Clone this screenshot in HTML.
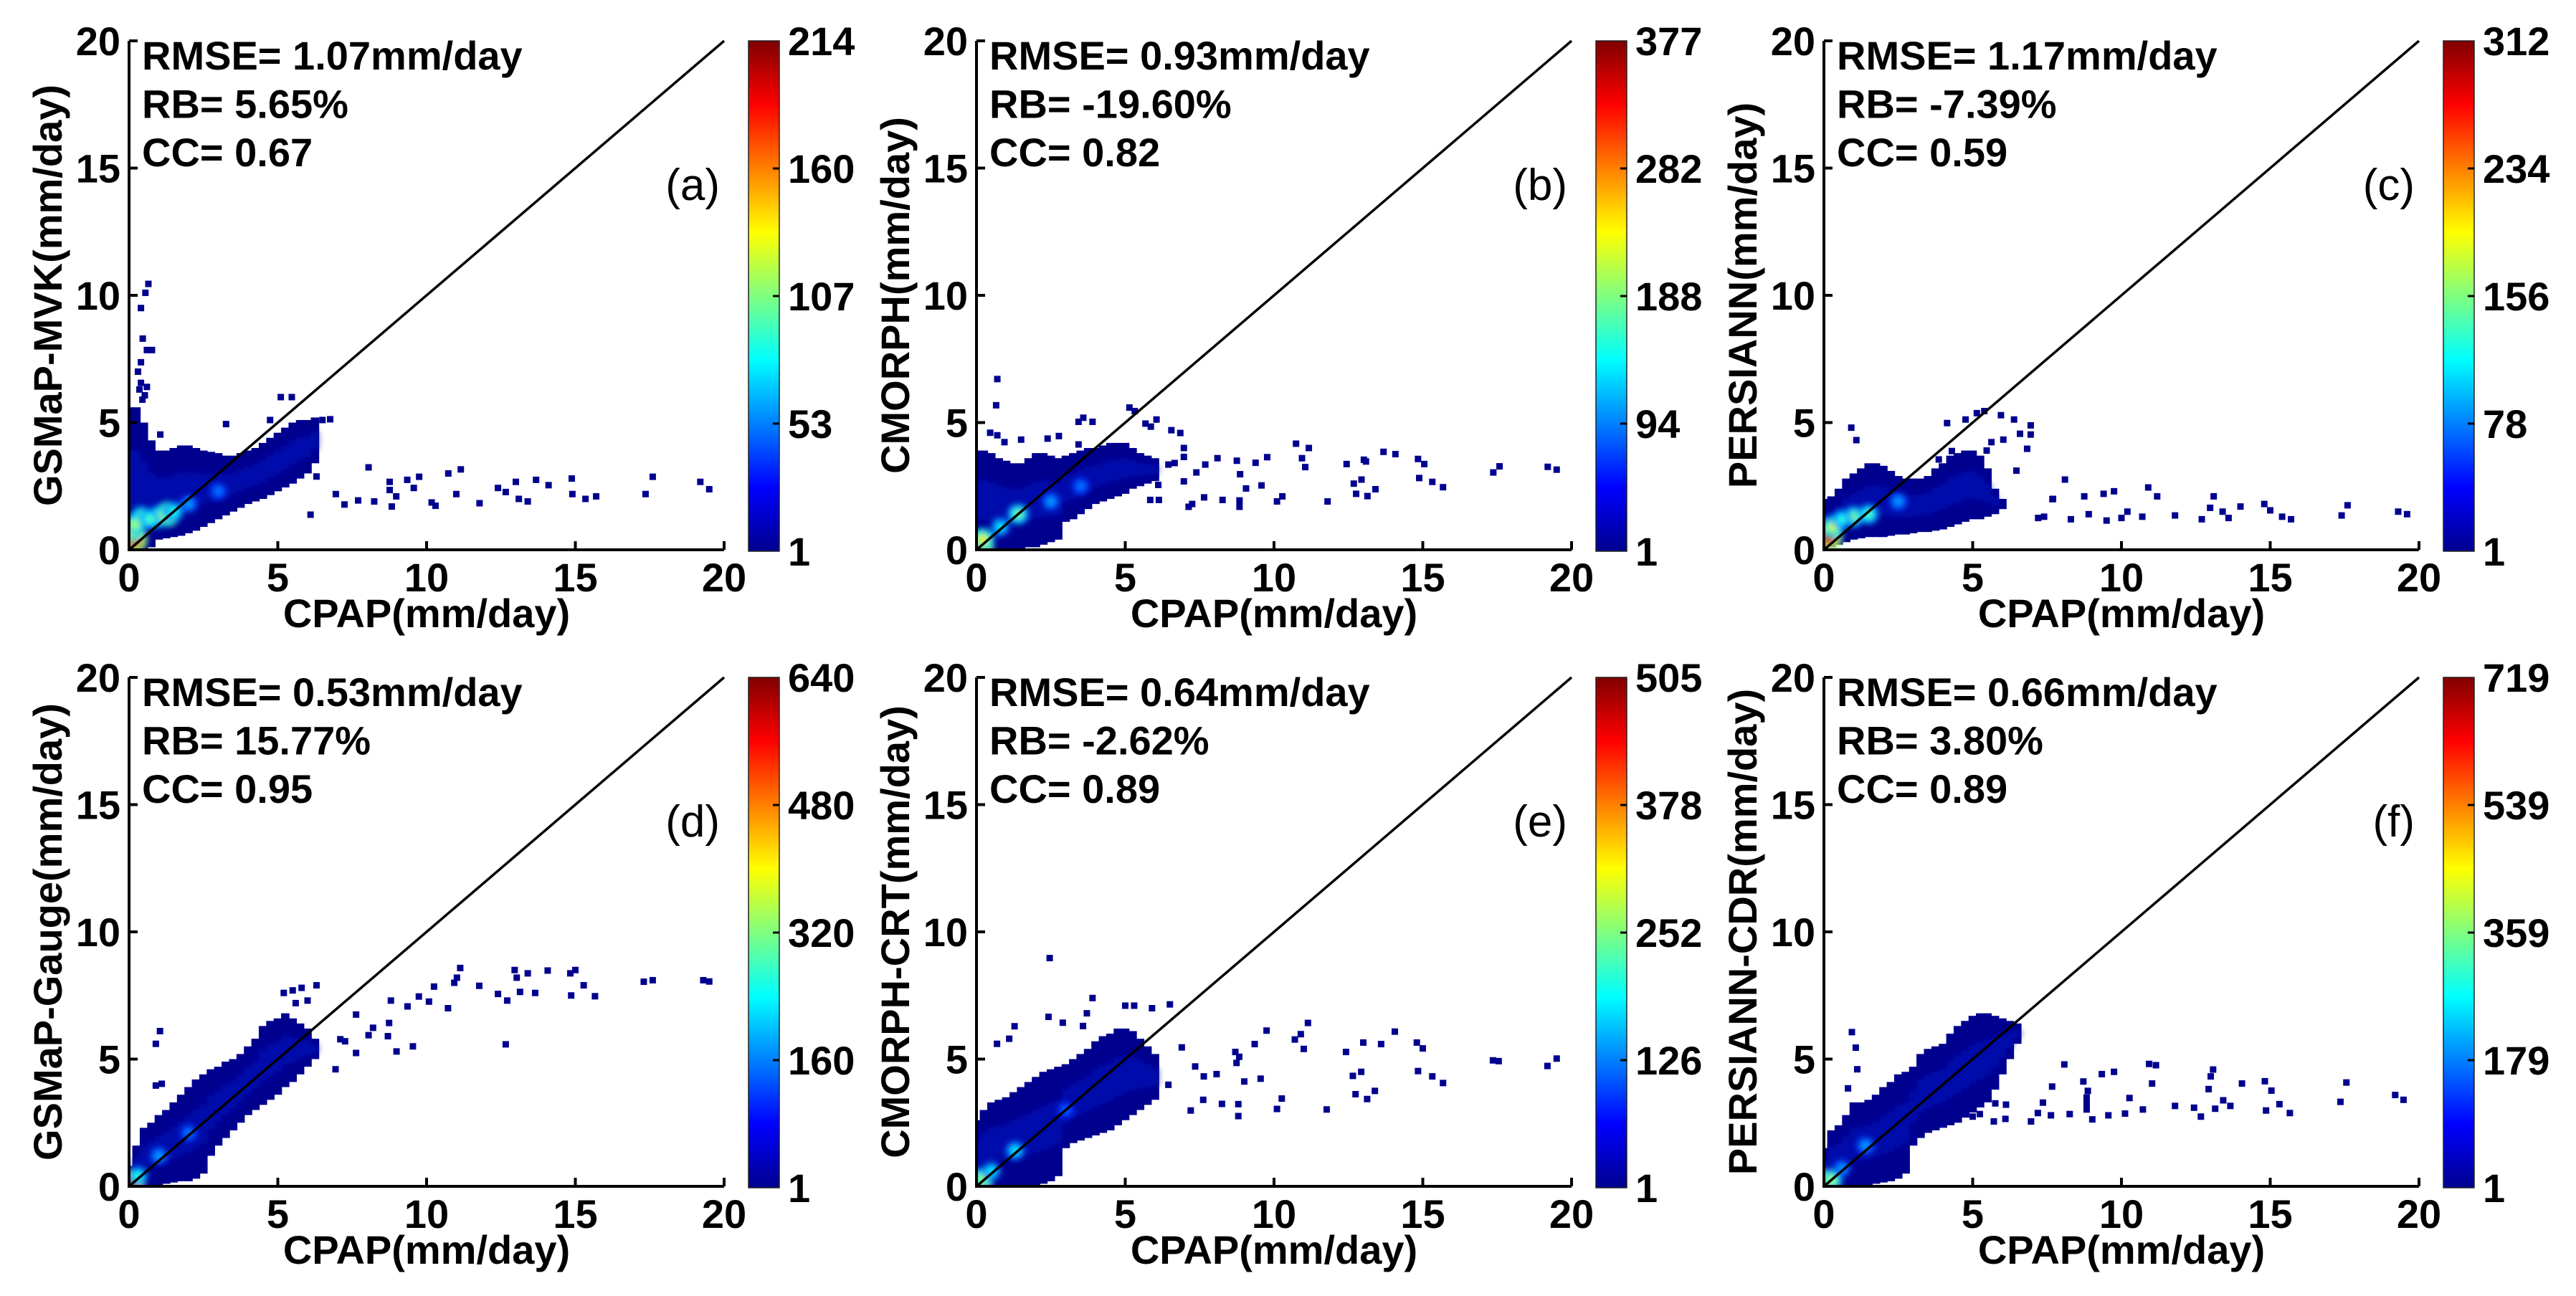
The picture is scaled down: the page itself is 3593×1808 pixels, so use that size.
<!DOCTYPE html>
<html><head><meta charset="utf-8"><style>
html,body{margin:0;padding:0;background:#fff;}
svg{display:block;font-family:"Liberation Sans",Arial,sans-serif;}
</style></head><body>
<svg id="fig" width="3593" height="1808" viewBox="0 0 3593 1808" xmlns="http://www.w3.org/2000/svg">
<defs>
<linearGradient id="jet" x1="0" y1="1" x2="0" y2="0">
<stop offset="0" stop-color="#00008f"/><stop offset="0.125" stop-color="#0000ff"/><stop offset="0.375" stop-color="#00ffff"/><stop offset="0.625" stop-color="#ffff00"/><stop offset="0.875" stop-color="#ff0000"/><stop offset="1" stop-color="#800000"/>
</linearGradient>
<filter id="soft" x="-50%" y="-50%" width="200%" height="200%"><feGaussianBlur stdDeviation="4"/></filter>
</defs>
</svg>
<script>
// ---- data: column envelopes [x, yLow, yHigh] (mm/day)
const colsA=[[0,0,5.6],[0.25,0,5.6],[0.5,0,5.0],[0.75,0.1,4.3],[1,0.4,3.9],[1.25,0.45,3.9],[1.5,0.5,4.0],[1.75,0.55,4.1],[2,0.65,4.1],[2.25,0.75,4.0],[2.5,0.9,3.9],[2.75,1.05,3.85],[3,1.2,3.8],[3.25,1.35,3.7],[3.5,1.5,3.7],[3.75,1.65,3.8],[4,1.8,3.9],[4.25,1.9,4.0],[4.5,2.0,4.2],[4.75,2.15,4.4],[5,2.3,4.6],[5.25,2.45,4.8],[5.5,2.6,5.0],[5.75,2.8,5.1],[6,3.0,5.1],[6.25,3.4,5.2]];
const colsB=[[0,0,3.9],[0.25,0,3.9],[0.5,0,3.8],[0.75,0.05,3.6],[1,0.05,3.5],[1.25,0.05,3.4],[1.5,0.05,3.4],[1.75,0.1,3.6],[2,0.1,3.8],[2.25,0.2,3.8],[2.5,0.3,3.7],[2.75,0.4,3.6],[3,1.1,3.7],[3.25,1.2,3.8],[3.5,1.4,3.9],[3.75,1.6,4.0],[4,1.8,4.0],[4.25,1.9,4.1],[4.5,2.0,4.2],[4.75,2.1,4.2],[5,2.2,4.2],[5.25,2.4,4.0],[5.5,2.5,3.8],[5.75,2.6,3.7],[6,2.7,3.6]];
const colsC=[[0,0.05,2.0],[0.25,0.1,2.1],[0.5,0.2,2.4],[0.75,0.3,2.8],[1,0.4,3.0],[1.25,0.45,3.2],[1.5,0.5,3.4],[1.75,0.5,3.4],[2,0.5,3.3],[2.25,0.55,3.1],[2.5,0.6,2.9],[2.75,0.6,2.8],[3,0.65,2.8],[3.25,0.7,2.8],[3.5,0.7,2.9],[3.75,0.75,3.2],[4,0.8,3.4],[4.25,0.9,3.7],[4.5,1.0,3.8],[4.75,1.1,3.9],[5,1.2,3.9],[5.25,1.2,3.7],[5.5,1.3,3.2],[5.75,1.4,2.4],[6,1.6,2.0]];
const colsD=[[0,0,0.8],[0.25,0,1.6],[0.5,0,2.3],[0.75,0,2.5],[1,0.05,2.8],[1.25,0.1,3.0],[1.5,0.15,3.3],[1.75,0.2,3.6],[2,0.2,3.9],[2.25,0.3,4.2],[2.5,0.5,4.4],[2.75,1.2,4.6],[3,1.6,4.7],[3.25,1.9,4.9],[3.5,2.2,5.0],[3.75,2.5,5.2],[4,2.8,5.5],[4.25,3.0,5.8],[4.5,3.2,6.3],[4.75,3.4,6.5],[5,3.6,6.6],[5.25,3.9,6.8],[5.5,4.1,6.6],[5.75,4.4,6.4],[6,4.7,6.2],[6.25,5.0,5.8]];
const colsE=[[0,0,2.6],[0.25,0,3.0],[0.5,0,3.3],[0.75,0,3.4],[1,0,3.5],[1.25,0,3.7],[1.5,0,3.9],[1.75,0,4.1],[2,0.05,4.3],[2.25,0.1,4.5],[2.5,0.2,4.6],[2.75,0.4,4.7],[3,1.5,4.8],[3.25,1.7,5.0],[3.5,1.8,5.2],[3.75,1.9,5.4],[4,2.0,5.7],[4.25,2.1,5.9],[4.5,2.2,6.0],[4.75,2.4,6.2],[5,2.6,6.2],[5.25,2.8,6.1],[5.5,3.0,5.8],[5.75,3.2,5.5],[6,3.4,5.2]];
const colsF=[[0,0,1.5],[0.25,0,2.2],[0.5,0,2.4],[0.75,0,2.8],[1,0,3.3],[1.25,0,3.3],[1.5,0.05,3.4],[1.75,0.1,3.6],[2,0.15,3.9],[2.25,0.2,4.1],[2.5,0.3,4.4],[2.75,0.5,4.5],[3,1.6,4.7],[3.25,1.9,5.2],[3.5,2.1,5.4],[3.75,2.2,5.5],[4,2.3,5.6],[4.25,2.4,6.0],[4.5,2.5,6.3],[4.75,2.7,6.5],[5,2.9,6.7],[5.25,3.1,6.8],[5.5,3.3,6.8],[5.75,3.8,6.7],[6,4.4,6.6],[6.25,5.0,6.5],[6.5,5.6,6.4]];
// ---- density hot spots [x, y, level 0..1]
const hotA=[[0.15,0.4,1.0],[0.1,0.8,0.7],[1.3,1.4,0.75],[1.0,1.3,0.5],[0.4,1.3,0.45],[0.2,1.0,0.5],[0.7,1.2,0.4],[1.5,1.5,0.35],[2,1.8,0.2],[3,2.3,0.15]];
const hotB=[[0.1,0.15,1.0],[0.2,0.4,0.6],[1.4,1.4,0.45],[0.8,0.9,0.3],[2.5,1.9,0.2],[3.5,2.5,0.15]];
const hotC=[[0.15,0.5,1.0],[0.3,0.9,0.55],[1.0,1.3,0.45],[1.5,1.4,0.4],[0.6,1.2,0.35],[2.5,1.9,0.2]];
const hotD=[[0.05,0.1,1.0],[0.3,0.4,0.35],[1.0,1.2,0.2],[2,2.1,0.15]];
const hotE=[[0.05,0.1,1.0],[0.2,0.3,0.5],[1.3,1.4,0.3],[0.5,0.6,0.3],[3,3,0.12]];
const hotF=[[0.05,0.1,1.0],[0.25,0.25,0.5],[1.4,1.6,0.2],[0.6,0.7,0.2]];
// ---- scattered points [x, y]
const ptsA=[[8.05,3.24],[6.95,2.19],[7.24,1.78],[7.7,1.94],[8.24,1.9],[8.76,2.67],[8.76,2.35],[8.83,1.7],[8.98,2.1],[9.35,2.75],[9.57,2.43],[9.75,2.87],[10.17,1.86],[10.3,1.73],[10.73,3.0],[11.15,3.16],[11.0,2.19],[11.78,1.83],[12.4,2.43],[12.66,2.27],[13.0,2.67],[13.1,2.0],[13.4,1.9],[13.68,2.75],[14.1,2.54],[14.88,2.8],[14.9,2.19],[15.34,2.0],[15.7,2.1],[17.36,2.19],[17.6,2.87],[19.2,2.67],[19.5,2.38],[6.1,1.38],[6.3,2.88],[0.65,10.45],[0.55,10.1],[0.4,9.5],[0.46,8.3],[0.6,7.85],[0.77,7.85],[0.4,7.37],[0.3,7.0],[0.4,6.56],[0.53,6.07],[0.35,6.3],[0.6,6.4],[0.45,5.9],[1.05,4.53],[3.26,4.94],[4.74,5.1],[5.1,6.0],[5.47,6.0],[6.76,5.13],[6.5,5.1]];
const ptsB=[[0.7,6.71],[0.66,5.68],[5.14,5.59],[5.32,5.45],[3.43,5.03],[3.59,5.19],[3.9,5.03],[6.05,5.12],[5.68,4.96],[5.86,4.84],[6.55,4.7],[6.85,4.59],[6.97,4.0],[6.97,3.65],[6.66,3.41],[6.45,3.35],[7.39,3.04],[7.69,3.35],[8.1,3.6],[8.75,3.5],[9.38,3.42],[9.77,3.64],[8.86,2.97],[9.06,2.41],[9.58,2.53],[6.97,2.69],[7.65,2.06],[7.25,1.8],[7.13,1.69],[8.27,1.96],[8.84,1.94],[8.84,1.69],[10.1,1.9],[10.28,2.1],[6.13,1.96],[5.84,1.96],[6.11,2.55],[10.74,4.17],[11.17,4.0],[10.94,3.6],[11.05,3.25],[12.44,3.37],[13.02,3.54],[13.09,3.47],[13.68,3.85],[14.08,3.76],[14.84,3.57],[15.05,3.37],[14.88,2.82],[15.32,2.67],[15.68,2.46],[17.37,3.04],[17.58,3.28],[19.2,3.26],[19.5,3.15],[12.68,2.6],[12.94,2.76],[12.76,2.2],[13.14,2.11],[13.41,2.38],[11.8,1.9],[0.46,4.6],[0.7,4.5],[0.94,4.23],[1.5,4.33],[2.39,4.37],[2.77,4.47],[3.43,4.14]];
const ptsC=[[8.1,2.76],[7.7,2.0],[8.75,2.1],[9.4,2.2],[9.75,2.3],[10.9,2.45],[11.2,2.1],[8.9,1.4],[7.2,1.25],[8.3,1.2],[9.5,1.15],[10.0,1.25],[10.7,1.3],[11.8,1.35],[12.7,1.2],[13.1,2.1],[12.98,1.65],[13.4,1.5],[13.6,1.25],[14.0,1.7],[14.8,1.8],[15.0,1.55],[15.4,1.3],[15.7,1.2],[17.4,1.35],[17.6,1.75],[19.3,1.5],[19.6,1.4],[10.2,1.5],[7.4,1.3],[0.92,4.8],[1.09,4.31],[4.14,4.98],[4.76,5.12],[5.14,5.37],[5.39,5.45],[5.95,5.29],[6.39,5.12],[6.95,4.89],[6.95,4.53],[6.59,4.56],[6.83,3.97],[6.47,3.11],[6.03,4.33],[5.63,4.23],[5.47,3.9],[4.3,3.88],[3.86,3.55],[7.68,1.99]];
const ptsD=[[7.63,6.75],[7.26,5.7],[7.1,5.78],[7.63,5.24],[6.94,4.6],[8.05,5.94],[8.2,6.23],[8.7,5.9],[8.74,6.42],[8.8,7.3],[8.99,5.3],[9.36,7.07],[9.54,5.5],[9.74,7.46],[10.08,7.26],[10.25,7.85],[10.72,7.0],[10.93,8.0],[11.02,8.2],[11.13,8.58],[11.77,7.88],[12.4,7.56],[12.66,5.58],[12.71,7.3],[12.96,8.5],[13.03,8.2],[13.14,7.64],[13.4,8.37],[13.65,7.6],[14.07,8.48],[14.83,8.37],[14.86,7.5],[15.0,8.5],[15.28,7.9],[15.66,7.47],[17.3,8.04],[17.6,8.1],[19.3,8.1],[19.5,8.05],[0.9,3.96],[1.1,4.03],[0.9,5.6],[1.04,6.1],[5.2,7.6],[5.5,7.7],[5.8,7.8],[6.3,7.9],[5.6,7.2],[6.0,7.3]];
const ptsE=[[2.46,8.97],[3.9,7.4],[9.75,6.12],[11.14,6.42],[10.9,5.98],[10.7,5.77],[11.0,5.4],[9.35,5.59],[8.7,5.28],[8.83,5.09],[8.74,4.85],[7.35,4.71],[7.64,4.32],[8.07,4.41],[9.0,4.12],[9.55,4.23],[10.26,3.45],[10.1,3.04],[7.62,3.4],[8.25,3.24],[8.8,3.23],[7.2,2.98],[8.8,2.76],[11.77,3.02],[12.42,5.28],[13.0,5.65],[13.6,5.59],[14.06,6.08],[14.8,5.65],[15.0,5.42],[12.65,4.34],[12.93,4.5],[14.84,4.53],[15.32,4.32],[15.68,4.06],[12.74,3.62],[13.13,3.43],[13.39,3.75],[17.36,4.95],[17.55,4.92],[19.19,4.73],[19.5,5.02],[6.9,5.46],[6.45,3.99],[1.28,6.29],[1.1,5.8],[0.69,5.6],[2.42,6.66],[2.9,6.43],[3.58,6.3],[3.71,6.8],[5.0,7.1],[5.3,7.1],[6.5,7.15],[5.9,7.0]];
const ptsF=[[0.94,6.06],[1.07,5.45],[1.12,4.6],[0.81,3.85],[8.08,4.79],[7.67,3.92],[8.72,4.12],[8.87,3.75],[8.83,3.49],[8.83,3.24],[8.83,3.02],[9.34,4.41],[9.75,4.5],[10.27,3.47],[10.93,4.81],[11.16,4.76],[11.03,4.04],[7.36,3.29],[7.19,2.88],[7.63,2.79],[8.26,2.84],[6.96,2.55],[9.02,2.63],[9.56,2.79],[10.12,2.86],[10.72,3.02],[11.8,3.16],[12.44,3.09],[12.67,2.74],[12.93,3.82],[13.0,4.32],[13.08,4.59],[13.15,3.05],[13.42,3.38],[13.66,3.16],[14.05,4.04],[14.82,4.13],[15.04,3.76],[15.31,3.23],[14.86,2.98],[15.66,2.88],[17.56,4.08],[17.36,3.32],[19.2,3.59],[19.48,3.4],[5.76,3.26],[6.12,3.21],[5.71,2.55],[6.1,2.65],[5.0,2.74],[5.24,2.84]];
// ---- colorbar tick labels
const cbA=["1","53","107","160","214"];
const cbB=["1","94","188","282","377"];
const cbC=["1","78","156","234","312"];
const cbD=["1","160","320","480","640"];
const cbE=["1","126","252","378","505"];
const cbF=["1","179","359","539","719"];
// ---- statistics text
const statsA=["RMSE= 1.07mm/day","RB= 5.65%","CC= 0.67"];
const statsB=["RMSE= 0.93mm/day","RB= -19.60%","CC= 0.82"];
const statsC=["RMSE= 1.17mm/day","RB= -7.39%","CC= 0.59"];
const statsD=["RMSE= 0.53mm/day","RB= 15.77%","CC= 0.95"];
const statsE=["RMSE= 0.64mm/day","RB= -2.62%","CC= 0.89"];
const statsF=["RMSE= 0.66mm/day","RB= 3.80%","CC= 0.89"];
const yTitles=["GSMaP-MVK(mm/day)","CMORPH(mm/day)","PERSIANN(mm/day)","GSMaP-Gauge(mm/day)","CMORPH-CRT(mm/day)","PERSIANN-CDR(mm/day)"];
const panelLetters=["(a)","(b)","(c)","(d)","(e)","(f)"];
const axisTicks=[0,5,10,15,20];

const NS="http://www.w3.org/2000/svg";
const svg=document.getElementById('fig');
function mk(tag,attrs,parent){const e=document.createElementNS(NS,tag);for(const k in attrs)e.setAttribute(k,attrs[k]);(parent||svg).appendChild(e);return e;}
function jet(v){v=Math.max(0,Math.min(1,v));
 const r=Math.max(0,Math.min(1,1.5-Math.abs(4*v-3))),g=Math.max(0,Math.min(1,1.5-Math.abs(4*v-2))),b=Math.max(0,Math.min(1,1.5-Math.abs(4*v-1)));
 return `rgb(${Math.round(r*255)},${Math.round(g*255)},${Math.round(b*255)})`;}

const W=830,H=710;
const lefts=[180,1362,2544], tops=[57,945];
const panels=[
 {cols:colsA,hot:hotA,pts:ptsA,cb:cbA,stats:statsA},
 {cols:colsB,hot:hotB,pts:ptsB,cb:cbB,stats:statsB},
 {cols:colsC,hot:hotC,pts:ptsC,cb:cbC,stats:statsC},
 {cols:colsD,hot:hotD,pts:ptsD,cb:cbD,stats:statsD},
 {cols:colsE,hot:hotE,pts:ptsE,cb:cbE,stats:statsE},
 {cols:colsF,hot:hotF,pts:ptsF,cb:cbF,stats:statsF}];

panels.forEach((p,i)=>{
 const L=lefts[i%3],T=tops[Math.floor(i/3)],B=T+H,R=L+W;
 const sx=v=>L+v/20*W, sy=v=>B-v/20*H;
 const g=mk('g',{});
 
 
 const clipId='clip'+i;
 const cp=mk('clipPath',{id:clipId},g);mk('rect',{x:L,y:T-5,width:W+5,height:H+5},cp);
 const pg=mk('g',{'clip-path':`url(#${clipId})`},g);
 
 
 p.cols.forEach(c=>{
  const r=mk('rect',{x:sx(c[0]-0.14),y:sy(c[2]),width:sx(0.28)-L,height:sy(c[1])-sy(c[2]),fill:'#00008f'},pg);
  
  
 });
 const core=mk('g',{filter:'url(#soft)'},pg);
 
 
 p.cols.forEach(c=>{
  const span=c[2]-c[1];if(span<0.6)return;
  const r=mk('rect',{x:sx(c[0]-0.14),y:sy(c[2]-span*0.3),width:sx(0.28)-L,height:sy(c[1]+span*0.3)-sy(c[2]-span*0.3),fill:'#0010c0',opacity:0.55},core);
  
  
 });
 const hg=mk('g',{filter:'url(#soft)'},pg);
 
 
 p.hot.forEach(h=>{
  [[18,0.45],[11,0.75],[6,1]].forEach(s=>{
   const c=mk('circle',{cx:sx(h[0]),cy:sy(h[1]),r:s[0]*(0.6+h[1]*0+h[2]*0.5),fill:jet(0.12+h[2]*0.88*s[1]),opacity:0.85},hg);
   
   
  });
 });
 p.pts.forEach(q=>{
  const r=mk('rect',{x:sx(q[0])-4.5,y:sy(q[1])-4.5,width:9,height:9,fill:'#00008f'},pg);
  
  
 });
 const ln=mk('line',{x1:sx(0),y1:sy(0),x2:sx(20),y2:sy(20),stroke:'#000','stroke-width':3.5},g);
 
 
 const ax=mk('path',{d:`M${L},${T} L${L},${B} L${R},${B}`,fill:'none',stroke:'#000','stroke-width':4},g);
 
 
 axisTicks.forEach(t=>{
  mk('line',{x1:sx(t),y1:B,x2:sx(t),y2:B-12,stroke:'#000','stroke-width':4},g);
  mk('line',{x1:L,y1:sy(t),x2:L+12,y2:sy(t),stroke:'#000','stroke-width':4},g);
  const xt=mk('text',{x:sx(t),y:B+58,'font-size':56,'font-weight':'bold','text-anchor':'middle'},g);xt.textContent=t;
  
  
  const yt=mk('text',{x:L-12,y:sy(t)+20,'font-size':56,'font-weight':'bold','text-anchor':'end'},g);yt.textContent=t;
  
  
 });
 const xtitle=mk('text',{x:L+W/2,y:B+108,'font-size':56,'font-weight':'bold','text-anchor':'middle'},g);xtitle.textContent='CPAP(mm/day)';
 
 
 const ytitle=mk('text',{x:0,y:0,'font-size':56,'font-weight':'bold','text-anchor':'middle',transform:`translate(${L-94},${T+H/2}) rotate(-90)`},g);ytitle.textContent=yTitles[i];
 
 
 p.stats.forEach((s,k)=>{
  const st=mk('text',{x:L+18,y:T+40+k*67.5,'font-size':56,'font-weight':'bold'},g);st.textContent=s;
  
  
 });
 const pl=mk('text',{x:R-6,y:T+222,'font-size':62,'text-anchor':'end'},g);pl.textContent=panelLetters[i];
 
 
 const cx=L+864,cw=43,ch=712;
 const cb=mk('rect',{x:cx,y:T,width:cw,height:ch,fill:'url(#jet)',stroke:'#222','stroke-width':1.5},g);
 
 
 p.cb.forEach((lab,k)=>{
  const yy=T+ch-k*ch/(p.cb.length-1);
  if(k>0&&k<p.cb.length-1){mk('line',{x1:cx+cw,y1:yy,x2:cx+cw-9,y2:yy,stroke:'#000','stroke-width':3},g);}
  const ct=mk('text',{x:cx+cw+12,y:yy+20,'font-size':56,'font-weight':'bold'},g);ct.textContent=lab;
  
  
 });
});
</script>
</body></html>
